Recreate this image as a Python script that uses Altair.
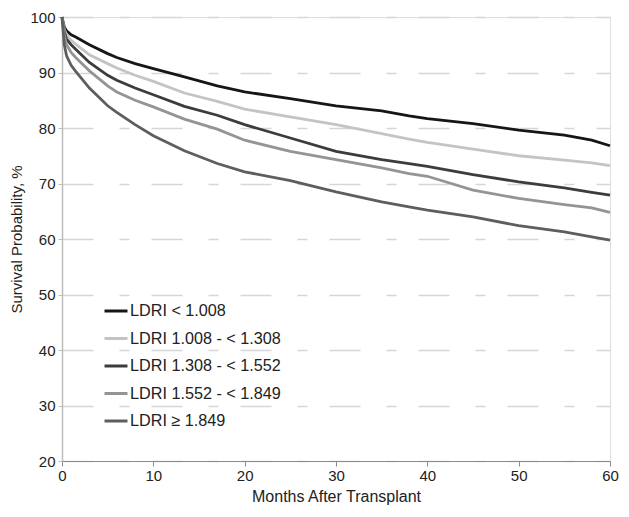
import altair as alt
import pandas as pd

# Kaplan-Meier style survival curves
series = [
    "LDRI < 1.008",
    "LDRI 1.008 - < 1.308",
    "LDRI 1.308 - < 1.552",
    "LDRI 1.552 - < 1.849",
    "LDRI \u2265 1.849",
]
colors = ["#161616", "#c4c4c4", "#3c3c3c", "#949494", "#5e5e5e"]

months = [0, 0.25, 0.5, 1, 1.5, 3, 5, 6, 8, 10, 13.4, 17, 20, 25, 30, 35, 38, 40, 45, 50, 55, 58, 60]

s1 = [100, 98.2, 97.5, 96.8, 96.4, 95.0, 93.4, 92.7, 91.6, 90.7, 89.2, 87.6, 86.5, 85.3, 84.0, 83.1, 82.2, 81.7, 80.8, 79.6, 78.7, 77.8, 76.8]
s2 = [100, 97.8, 96.8, 95.8, 95.1, 93.2, 91.6, 90.8, 89.5, 88.4, 86.3, 84.8, 83.4, 82.0, 80.6, 79.0, 78.0, 77.4, 76.2, 75.0, 74.2, 73.7, 73.2]
s3 = [100, 97.3, 96.0, 95.0, 94.2, 91.8, 89.5, 88.6, 87.2, 86.0, 83.9, 82.3, 80.6, 78.2, 75.8, 74.3, 73.6, 73.1, 71.6, 70.3, 69.2, 68.4, 67.9]
s4 = [100, 96.7, 95.0, 93.6, 92.7, 90.3, 87.6, 86.5, 85.0, 83.8, 81.6, 79.8, 77.8, 75.8, 74.3, 72.8, 71.8, 71.3, 68.8, 67.3, 66.2, 65.6, 64.8]
s5 = [100, 95.0, 93.0, 91.3, 90.2, 87.2, 84.0, 82.8, 80.6, 78.6, 75.9, 73.6, 72.1, 70.5, 68.5, 66.7, 65.8, 65.2, 64.0, 62.4, 61.3, 60.4, 59.8]

values = [s1, s2, s3, s4, s5]

rows = []
for name, vals in zip(series, values):
    for m, v in zip(months, vals):
        rows.append({"month": m, "survival": v, "group": name})
df = pd.DataFrame(rows)

font = "Liberation Sans"

chart = alt.Chart(df).mark_line(strokeWidth=2.8, interpolate="linear").encode(
    x=alt.X(
        "month:Q",
        scale=alt.Scale(domain=[0, 60], nice=False, zero=False),
        axis=alt.Axis(
            title="Months After Transplant",
            values=[0, 10, 20, 30, 40, 50, 60],
            grid=False,
            labelFlush=False,
            domainColor="#8c8c8c",
            domainWidth=1.2,
            tickColor="#8c8c8c",
            tickSize=5,
            labelFontSize=15,
            labelColor="#222222",
            labelPadding=2,
            titleFontSize=16,
            titleFontWeight="normal",
            titleColor="#222222",
            titlePadding=5,
        ),
    ),
    y=alt.Y(
        "survival:Q",
        scale=alt.Scale(domain=[20, 100], nice=False, zero=False),
        axis=alt.Axis(
            title="Survival Probability, %",
            values=[20, 30, 40, 50, 60, 70, 80, 90, 100],
            grid=True,
            gridColor="#d6d6d6",
            gridDash=[31, 26, 10, 22],
            gridWidth=1.5,
            domainColor="#bdbdbd",
            domainWidth=1.5,
            tickColor="#bdbdbd",
            tickSize=4,
            labelFontSize=15,
            labelColor="#222222",
            labelPadding=3,
            titleFontSize=15,
            titleFontWeight="normal",
            titleColor="#222222",
            titlePadding=5,
        ),
    ),
    color=alt.Color(
        "group:N",
        scale=alt.Scale(domain=series, range=colors),
        sort=series,
        legend=alt.Legend(
            title=None,
            orient="none",
            legendX=41,
            legendY=281,
            symbolType="stroke",
            symbolSize=529,
            symbolStrokeWidth=3,
            labelFontSize=16.2,
            labelColor="#222222",
            labelOffset=1,
            rowPadding=5.5,
            labelLimit=300,
        ),
    ),
).properties(
    width=548,
    height=444,
    autosize=alt.AutoSizeParams(type="none"),
    padding={"left": 54, "top": 9, "right": 9, "bottom": 46},
).configure_view(
    stroke=None
).configure(
    font=font
)

chart.save("out.html", embed_options={"renderer": "svg", "actions": False})
